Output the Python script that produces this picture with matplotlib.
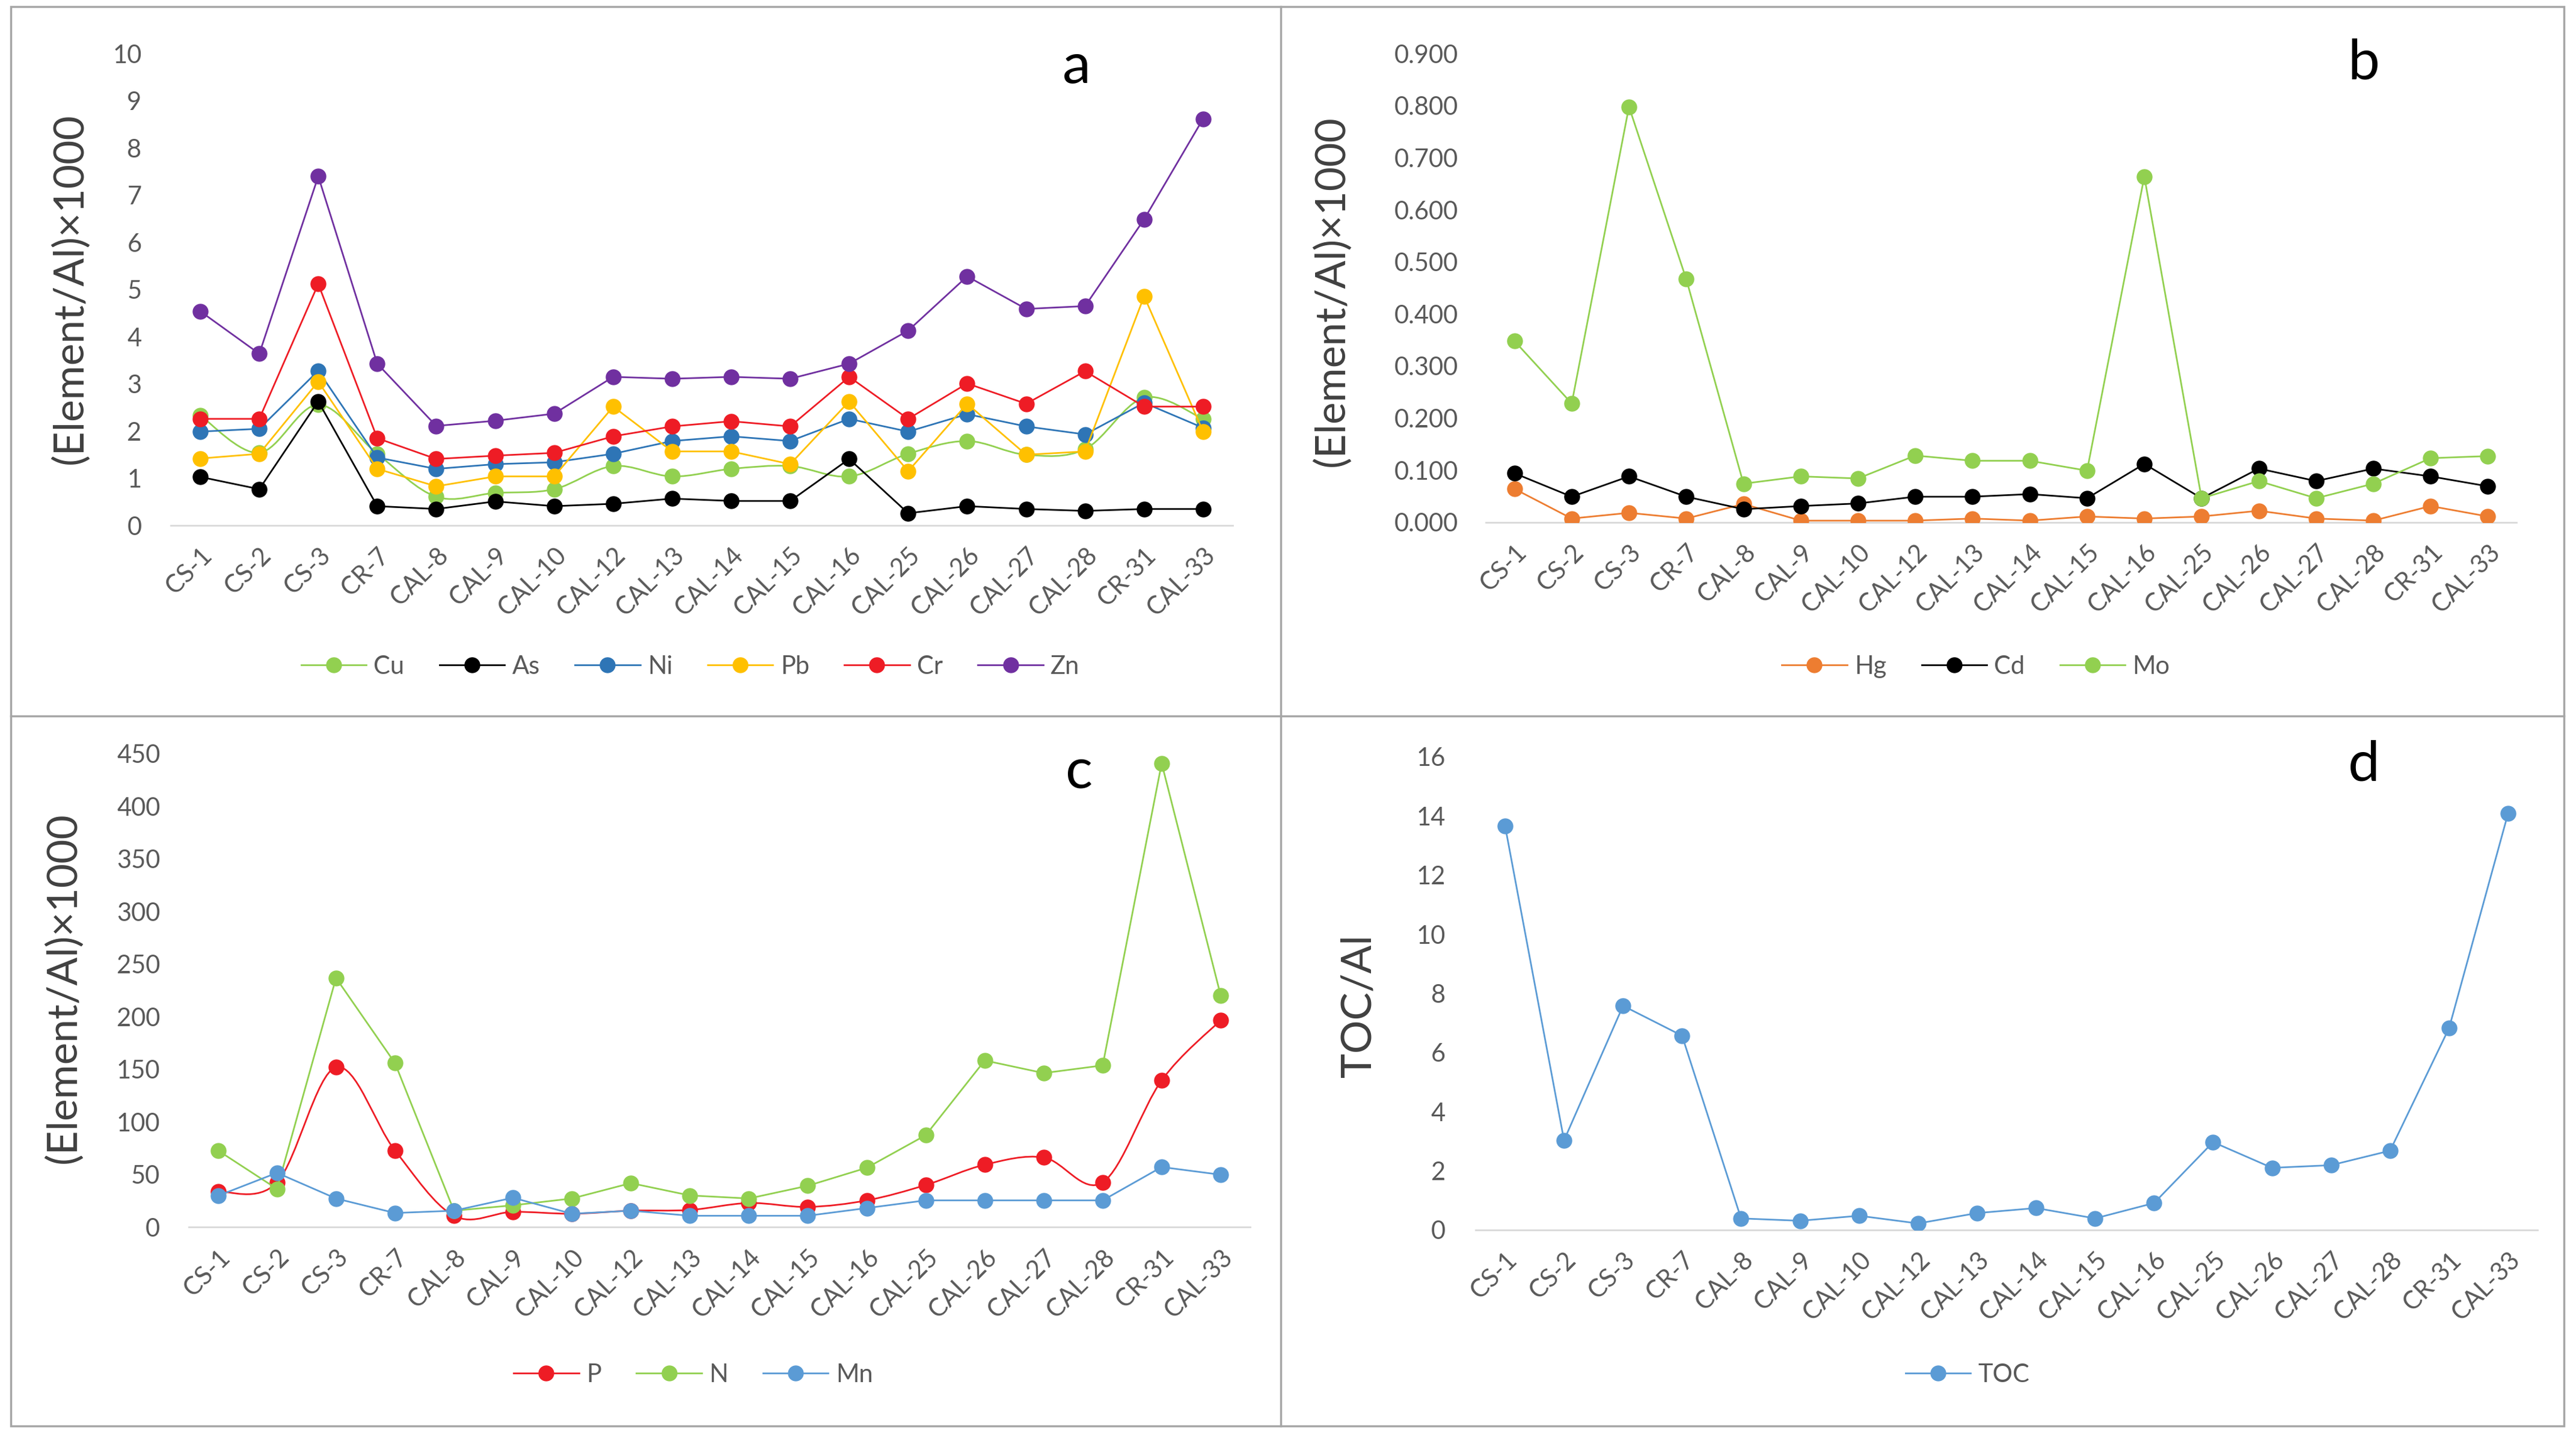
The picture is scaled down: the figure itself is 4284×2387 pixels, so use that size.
import numpy as np
import matplotlib
matplotlib.use("Agg")
import matplotlib.pyplot as plt
from matplotlib.path import Path
from matplotlib.patches import PathPatch, Rectangle
from matplotlib.lines import Line2D

plt.rcParams['font.family'] = ['Lato', 'DejaVu Sans']

samples = ['CS-1', 'CS-2', 'CS-3', 'CR-7', 'CAL-8', 'CAL-9', 'CAL-10', 'CAL-12', 'CAL-13',
           'CAL-14', 'CAL-15', 'CAL-16', 'CAL-25', 'CAL-26', 'CAL-27', 'CAL-28', 'CR-31', 'CAL-33']

# panel a  (Element/Al)x1000
cu = [2.33, 1.54, 2.56, 1.52, 0.61, 0.69, 0.77, 1.26, 1.04, 1.20, 1.26, 1.04, 1.52, 1.79, 1.50, 1.62, 2.71, 2.26]
as_ = [1.03, 0.77, 2.63, 0.41, 0.35, 0.51, 0.41, 0.46, 0.57, 0.52, 0.52, 1.41, 0.26, 0.41, 0.35, 0.31, 0.35, 0.35]
ni = [1.99, 2.05, 3.28, 1.44, 1.20, 1.30, 1.34, 1.52, 1.79, 1.89, 1.79, 2.26, 1.99, 2.36, 2.10, 1.93, 2.60, 2.07]
pb = [1.42, 1.52, 3.05, 1.20, 0.83, 1.04, 1.04, 2.52, 1.57, 1.57, 1.30, 2.63, 1.15, 2.58, 1.50, 1.57, 4.86, 1.99]
cr = [2.26, 2.26, 5.12, 1.85, 1.41, 1.48, 1.54, 1.89, 2.10, 2.21, 2.10, 3.15, 2.26, 3.01, 2.58, 3.27, 2.52, 2.52]
zn = [4.54, 3.64, 7.40, 3.43, 2.11, 2.22, 2.37, 3.15, 3.11, 3.15, 3.11, 3.43, 4.13, 5.28, 4.59, 4.65, 6.49, 8.62]

# panel b
hg = [0.064, 0.007, 0.018, 0.007, 0.035, 0.003, 0.003, 0.003, 0.007, 0.003, 0.011, 0.007, 0.011, 0.022, 0.007, 0.003, 0.031, 0.011]
cd = [0.094, 0.049, 0.088, 0.049, 0.025, 0.031, 0.036, 0.049, 0.049, 0.054, 0.046, 0.112, 0.046, 0.103, 0.079, 0.103, 0.088, 0.069]
mo = [0.348, 0.228, 0.798, 0.467, 0.074, 0.088, 0.084, 0.128, 0.118, 0.118, 0.099, 0.664, 0.046, 0.079, 0.046, 0.074, 0.123, 0.127]

# panel c
p = [33.9, 42.6, 152, 72.9, 10.9, 14.6, 12.8, 15.7, 16.4, 23.0, 19.3, 25.5, 40.1, 59.4, 66.3, 42.6, 139.6, 196.8]
n = [72.9, 36.4, 236.9, 156, 15.7, 20.8, 27.3, 41.9, 30.2, 27.3, 39.4, 56.5, 87.5, 158.5, 146.5, 153.8, 441, 220.5]
mn = [29.9, 51.7, 27.3, 13.5, 15.7, 28.0, 12.8, 15.7, 10.9, 10.9, 10.9, 18.2, 25.5, 25.5, 25.5, 25.5, 57.2, 49.9]

# panel d
toc = [13.67, 3.03, 7.58, 6.57, 0.39, 0.31, 0.48, 0.22, 0.57, 0.74, 0.39, 0.91, 2.97, 2.10, 2.19, 2.68, 6.83, 14.09]

GREEN = '#92D050'
BLUE_DK = '#2E75B6'
BLUE = '#5B9BD5'
YELLOW = '#FFC000'
RED = '#EE1C25'
PURPLE = '#7030A0'
ORANGE = '#ED7D31'
GREY = '#595959'

FS = 30
MS = 18
LW = 2.0

fig = plt.figure(figsize=(42.84, 23.87), dpi=100)


def smooth_line(ax, y, color):
    # Excel style smoothed line: Catmull-Rom as cubic Bezier segments
    x = np.arange(len(y), dtype=float)
    y = np.asarray(y, dtype=float)
    pts = np.column_stack([x, y])
    verts = [pts[0]]
    codes = [Path.MOVETO]
    for i in range(len(pts) - 1):
        p0 = pts[i - 1] if i > 0 else pts[i]
        p1 = pts[i]
        p2 = pts[i + 1]
        p3 = pts[i + 2] if i + 2 < len(pts) else pts[i + 1]
        c1 = p1 + (p2 - p0) / 6.0
        c2 = p2 - (p3 - p1) / 6.0
        verts += [c1, c2, p2]
        codes += [Path.CURVE4] * 3
    ax.add_patch(PathPatch(Path(verts, codes), fill=False, edgecolor=color, lw=LW, zorder=2))


def setup(rect, ymax, ystep, fmt, ypad):
    ax = fig.add_axes(rect)
    ax.set_xlim(-0.5, len(samples) - 0.5)
    ax.set_ylim(0, ymax)
    ax.set_yticks(np.arange(0, ymax + ystep / 2, ystep))
    ax.set_yticklabels([fmt.format(v) for v in np.arange(0, ymax + ystep / 2, ystep)])
    ax.set_xticks(range(len(samples)))
    ax.set_xticklabels(samples, rotation=45, ha='right', rotation_mode='anchor')
    for s in ['top', 'right', 'left']:
        ax.spines[s].set_visible(False)
    ax.spines['bottom'].set_color('#D9D9D9')
    ax.spines['bottom'].set_linewidth(2)
    ax.tick_params(axis='both', length=0, labelsize=FS, labelcolor=GREY)
    ax.tick_params(axis='y', pad=ypad)
    ax.tick_params(axis='x', pad=22)
    return ax


def series(ax, y, color, label, smooth=False):
    x = range(len(y))
    if smooth:
        smooth_line(ax, y, color)
        ax.plot(x, y, 'o', color=color, ms=MS, zorder=3)
        h = Line2D([], [], color=color, lw=LW, marker='o', ms=MS)
    else:
        h, = ax.plot(x, y, '-o', color=color, lw=LW, ms=MS, zorder=3)
    h.set_label(label)
    return h


def add_legend(ax, handles, cx, cy):
    leg = ax.legend(handles=handles, loc='center', bbox_to_anchor=(cx, cy),
                    bbox_transform=fig.transFigure, ncol=len(handles), frameon=False,
                    fontsize=FS, handlelength=2.6, handletextpad=0.3, columnspacing=1.4)
    for t in leg.get_texts():
        t.set_color(GREY)


# panel a
ax_a = setup([0.0663, 0.6338, 0.4122, 0.3288], 10, 1, '{:.0f}', 35)
ha = [series(ax_a, cu, GREEN, 'Cu', smooth=True),
      series(ax_a, as_, 'black', 'As'),
      series(ax_a, ni, BLUE_DK, 'Ni'),
      series(ax_a, pb, YELLOW, 'Pb'),
      series(ax_a, cr, RED, 'Cr'),
      series(ax_a, zn, PURPLE, 'Zn')]
add_legend(ax_a, ha, 0.268, 1 - 1109 / 2387)

# panel b
ax_b = setup([0.5768, 0.6361, 0.4001, 0.3265], 0.9, 0.1, '{:.3f}', 33)
hb = [series(ax_b, hg, ORANGE, 'Hg'),
      series(ax_b, cd, 'black', 'Cd'),
      series(ax_b, mo, GREEN, 'Mo')]
add_legend(ax_b, hb, 3286 / 4284, 1 - 1109 / 2387)

# panel c
ax_c = setup([0.0732, 0.1448, 0.4121, 0.3299], 450, 50, '{:.0f}', 34)
hc = [series(ax_c, p, RED, 'P', smooth=True),
      series(ax_c, n, GREEN, 'N'),
      series(ax_c, mn, BLUE, 'Mn')]
add_legend(ax_c, hc, 1153 / 4284, 1 - 2287 / 2387)

# panel d
ax_d = setup([0.5728, 0.1429, 0.4123, 0.3297], 16, 2, '{:.0f}', 36)
hd = [series(ax_d, toc, BLUE, 'TOC')]
add_legend(ax_d, hd, 3272 / 4284, 1 - 2287 / 2387)

# axis titles
fig.text(0.0271, 0.799, '(Element/Al)×1000', rotation=90, ha='center', va='center', fontsize=50, color='#404040')
fig.text(0.5168, 0.797, '(Element/Al)×1000', rotation=90, ha='center', va='center', fontsize=50, color='#404040')
fig.text(0.0246, 0.3117, '(Element/Al)×1000', rotation=90, ha='center', va='center', fontsize=50, color='#404040')
fig.text(0.5275, 0.299, 'TOC/Al', rotation=90, ha='center', va='center', fontsize=50, color='#404040')

# panel letters
fig.text(0.418, 0.953, 'a', ha='center', va='center', fontsize=68, color='black')
fig.text(0.9176, 0.956, 'b', ha='center', va='center', fontsize=68, color='black')
fig.text(0.419, 0.462, 'c', ha='center', va='center', fontsize=68, color='black')
fig.text(0.9176, 0.467, 'd', ha='center', va='center', fontsize=68, color='black')

# frame and dividers
bc = '#A6A6A6'
fig.add_artist(Rectangle((0.0041, 0.0063), 0.9912, 0.9889, transform=fig.transFigure,
                         fill=False, edgecolor=bc, lw=2.5))
fig.add_artist(Line2D([0.4972, 0.4972], [0.0063, 0.9952], transform=fig.transFigure, color=bc, lw=2.5))
fig.add_artist(Line2D([0.0041, 0.9953], [0.501, 0.501], transform=fig.transFigure, color=bc, lw=2.5))

fig.savefig('out.png', dpi=100)
